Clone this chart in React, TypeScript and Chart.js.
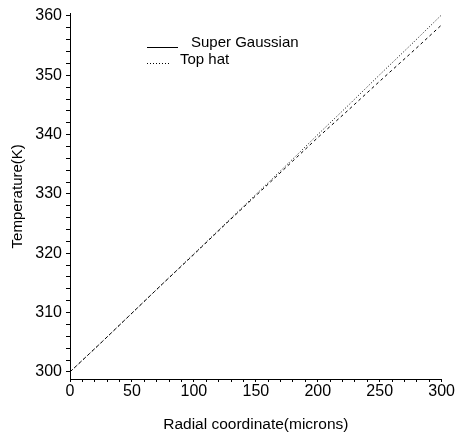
import React, { useEffect, useRef } from "react";
import { Chart, registerables } from "chart.js";

Chart.register(...registerables);

const radialMicrons = [0, 25, 50, 75, 100, 125, 150, 175, 200, 225, 250, 275, 300];
const superGaussian = [300, 304.9, 309.9, 314.9, 319.8, 324.8, 329.7, 334.6, 339.5, 344.2, 349.0, 353.7, 358.5];
const topHat = [300, 304.9, 309.9, 314.9, 319.9, 324.9, 329.9, 334.9, 340.0, 345.0, 350.1, 355.1, 360.2];
const xTickValues = Array.from({ length: 31 }, (_, i) => i * 10);
const yTickValues = Array.from({ length: 31 }, (_, i) => 300 + i * 2);
const legendLabels = ["Super Gaussian", "Top hat"];

const FONT = "'Liberation Sans', Arial, sans-serif";

const legendPlugin = {
  id: "customLegend",
  afterDraw(chart: any) {
    const ctx = chart.ctx;
    ctx.save();
    ctx.strokeStyle = "#000";
    ctx.fillStyle = "#000";
    ctx.lineWidth = 1;
    ctx.font = `15px ${FONT}`;
    ctx.textBaseline = "middle";
    ctx.setLineDash([]);
    ctx.beginPath();
    ctx.moveTo(147, 47.5);
    ctx.lineTo(178, 47.5);
    ctx.stroke();
    ctx.fillText(legendLabels[0], 191, 43);
    ctx.setLineDash([1, 2]);
    ctx.beginPath();
    ctx.moveTo(147, 63.5);
    ctx.lineTo(169, 63.5);
    ctx.stroke();
    ctx.setLineDash([]);
    ctx.fillText(legendLabels[1], 180, 60);
    ctx.restore();
  },
};

export default function App() {
  const ref = useRef<HTMLCanvasElement | null>(null);
  useEffect(() => {
    if (!ref.current) return;
    const chart = new Chart(ref.current, {
      type: "line",
      data: {
        datasets: [
          {
            label: legendLabels[0],
            data: radialMicrons.map((x, i) => ({ x, y: superGaussian[i] })),
            borderColor: "#000",
            borderWidth: 1,
            borderDash: [3, 3],
            pointRadius: 0,
            fill: false,
          },
          {
            label: legendLabels[1],
            data: radialMicrons.map((x, i) => ({ x, y: topHat[i] })),
            borderColor: "#000",
            borderWidth: 1,
            borderDash: [1, 2],
            pointRadius: 0,
            fill: false,
          },
        ],
      },
      options: {
        animation: false,
        responsive: true,
        maintainAspectRatio: false,
        layout: { padding: { top: 12, right: 12, left: 0, bottom: 0 } },
        plugins: { legend: { display: false }, tooltip: { enabled: false } },
        scales: {
          x: {
            type: "linear",
            min: 0,
            max: 300,
            afterBuildTicks: (s: any) => {
              s.ticks = xTickValues.map((v) => ({ value: v }));
            },
            afterFit: (s: any) => {
              s.height = 55;
            },
            border: { display: true, color: "#000", width: 1 },
            grid: { drawOnChartArea: false, drawTicks: true, tickLength: 3, tickColor: "#000" },
            ticks: {
              autoSkip: false,
              maxRotation: 0,
              padding: 0,
              color: "#000",
              font: { family: FONT, size: 16 },
              callback: (v: any) => (Number(v) % 50 === 0 ? String(v) : ""),
            },
            title: {
              display: true,
              text: "Radial coordinate(microns)",
              color: "#000",
              font: { family: FONT, size: 15.5 },
              padding: { top: 0, bottom: 0 },
            },
          },
          y: {
            type: "linear",
            min: 298.8,
            max: 360.4,
            afterBuildTicks: (s: any) => {
              s.ticks = yTickValues.map((v) => ({ value: v }));
            },
            afterFit: (s: any) => {
              s.width = 70;
            },
            border: { display: true, color: "#000", width: 1 },
            grid: { drawOnChartArea: false, drawTicks: true, tickLength: 4, tickColor: "#000" },
            ticks: {
              autoSkip: false,
              padding: 4,
              color: "#000",
              font: { family: FONT, size: 16 },
              callback: (v: any) => (Number(v) % 10 === 0 ? String(v) : ""),
            },
            title: {
              display: true,
              text: "Temperature(K)",
              color: "#000",
              font: { family: FONT, size: 15 },
              padding: { top: 9, bottom: 0 },
            },
          },
        },
      },
      plugins: [legendPlugin],
    });
    return () => chart.destroy();
  }, []);
  return (
    <div style={{ position: "fixed", left: 0, top: 0, width: 455, height: 434, background: "#fff" }}>
      <canvas ref={ref} />
    </div>
  );
}
